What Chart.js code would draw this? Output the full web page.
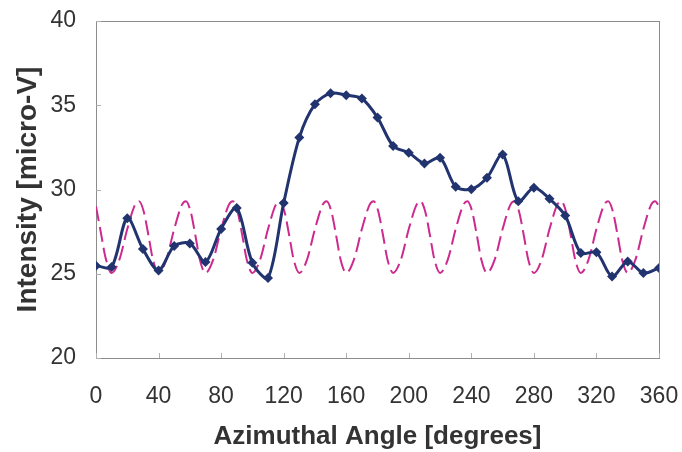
<!DOCTYPE html>
<html>
<head>
<meta charset="utf-8">
<script src="https://cdn.jsdelivr.net/npm/chart.js@4.4.1/dist/chart.umd.min.js"></script>
<style>
  html, body { margin: 0; padding: 0; background: #ffffff; }
  #c { display: block; }
</style>
</head>
<body>
<canvas id="c" width="682" height="452"></canvas>
<script>
// ---- data ----
const measuredAngles = [0, 10, 20, 30, 40, 50, 60, 70, 80, 90, 100, 110, 120, 130, 140, 150, 160, 170, 180,
  190, 200, 210, 220, 230, 240, 250, 260, 270, 280, 290, 300, 310, 320, 330, 340, 350, 360];
const measuredIntensity = [25.48, 25.4, 28.3, 26.47, 25.2, 26.65, 26.8, 25.7, 27.66, 28.9, 25.65, 24.75, 29.2,
  33.08, 35.06, 35.71, 35.6, 35.4, 34.27, 32.58, 32.18, 31.55, 31.88, 30.16, 30.02, 30.7, 32.08, 29.3, 30.1,
  29.45, 28.45, 26.23, 26.27, 24.84, 25.73, 25.04, 25.34];

const modelAngles = [0, 3, 6,
  10, 15, 20, 25, 27.5, 30.5, 33.5, 36.5,
  40, 45, 50, 55, 57.5, 60.5, 63.5, 66.5,
  70, 75, 80, 85, 87.5, 90.5, 93.5, 96.5,
  100, 105, 110, 115, 117.5, 120.5, 123.5, 126.5,
  130, 135, 140, 145, 147.5, 150.5, 153.5, 156.5,
  160, 165, 170, 175, 177.5, 180.5, 183.5, 186.5,
  190, 195, 200, 205, 207.5, 210.5, 213.5, 216.5,
  220, 225, 230, 235, 237.5, 240.5, 243.5, 246.5,
  250, 255, 260, 265, 267.5, 270.5, 273.5, 276.5,
  280, 285, 290, 295, 297.5, 300.5, 303.5, 306.5,
  310, 315, 320, 325, 327.5, 330.5, 333.5, 336.5,
  340, 345, 350, 355, 357.5, 360];
const modelIntensity = [29.0, 27.5, 26.0,
  25.05, 25.85, 27.65, 29.1, 29.3, 28.7, 27.3, 25.8,
  25.05, 25.85, 27.65, 29.1, 29.3, 28.7, 27.3, 25.8,
  25.05, 25.85, 27.65, 29.1, 29.3, 28.7, 27.3, 25.8,
  25.05, 25.85, 27.65, 29.1, 29.3, 28.7, 27.3, 25.8,
  25.05, 25.85, 27.65, 29.1, 29.3, 28.7, 27.3, 25.8,
  25.05, 25.85, 27.65, 29.1, 29.3, 28.7, 27.3, 25.8,
  25.05, 25.85, 27.65, 29.1, 29.3, 28.7, 27.3, 25.8,
  25.05, 25.85, 27.65, 29.1, 29.3, 28.7, 27.3, 25.8,
  25.05, 25.85, 27.65, 29.1, 29.3, 28.7, 27.3, 25.8,
  25.05, 25.85, 27.65, 29.1, 29.3, 28.7, 27.3, 25.8,
  25.05, 25.85, 27.65, 29.1, 29.3, 28.7, 27.3, 25.8,
  25.05, 25.85, 27.65, 29.1, 29.3, 29.0];

const xTicks = [0, 40, 80, 120, 160, 200, 240, 280, 320, 360];
const yTicks = [20, 25, 30, 35, 40];
const xTitle = 'Azimuthal Angle [degrees]';
const yTitle = 'Intensity [micro-V]';

// ---- build chart ----
const toPoints = (xs, ys) => xs.map((x, i) => ({ x: x, y: ys[i] }));

const framePlugin = {
  id: 'frame',
  beforeDatasetsDraw(chart) {
    const { ctx, chartArea: a, scales } = chart;
    ctx.save();
    ctx.strokeStyle = '#8c8c8c';
    ctx.lineWidth = 1;
    ctx.strokeRect(Math.round(a.left) + 0.5, Math.round(a.top) + 0.5,
      Math.round(a.right - a.left), Math.round(a.bottom - a.top));
    ctx.strokeStyle = '#b0b0b0';
    xTicks.forEach(v => {
      const px = Math.round(scales.x.getPixelForValue(v)) + 0.5;
      ctx.beginPath(); ctx.moveTo(px, a.bottom); ctx.lineTo(px, a.bottom - 5); ctx.stroke();
    });
    yTicks.forEach(v => {
      const py = Math.round(scales.y.getPixelForValue(v)) + 0.5;
      ctx.beginPath(); ctx.moveTo(a.left, py); ctx.lineTo(a.left + 5, py); ctx.stroke();
    });
    ctx.restore();
  }
};

const bg = {
  id: 'bg',
  beforeDraw(chart) {
    const ctx = chart.ctx;
    ctx.save(); ctx.fillStyle = '#ffffff'; ctx.fillRect(0, 0, chart.width, chart.height); ctx.restore();
  }
};

const zeroPad = s => { s.paddingTop = 0; s.paddingBottom = 0; s.paddingLeft = 0; s.paddingRight = 0; };

new Chart(document.getElementById('c'), {
  type: 'scatter',
  data: {
    datasets: [
      {
        label: 'Measured',
        data: toPoints(measuredAngles, measuredIntensity),
        showLine: true,
        borderColor: '#22346f',
        backgroundColor: '#22346f',
        borderWidth: 3,
        tension: 0.3,
        pointStyle: 'rectRot',
        pointRadius: 5,
        pointHoverRadius: 5,
        pointBorderWidth: 0
      },
      {
        label: 'Model',
        data: toPoints(modelAngles, modelIntensity),
        showLine: true,
        borderColor: '#cc2a8e',
        backgroundColor: '#cc2a8e',
        borderWidth: 2,
        borderDash: [15, 6],
        cubicInterpolationMode: 'monotone',
        pointRadius: 0,
        pointHoverRadius: 0
      }
    ]
  },
  options: {
    responsive: false,
    animation: false,
    devicePixelRatio: 1,
    layout: { padding: { left: 11, right: 23, top: 21, bottom: 0 } },
    plugins: { legend: { display: false }, tooltip: { enabled: false } },
    scales: {
      x: {
        type: 'linear',
        min: 0, max: 360,
        afterBuildTicks: s => { s.ticks = xTicks.map(v => ({ value: v })); },
        afterFit: s => { s.height = 94; zeroPad(s); },
        grid: { display: false, drawTicks: false },
        border: { display: false },
        ticks: {
          padding: 25,
          color: '#333333',
          font: { family: '"Liberation Sans", Arial, sans-serif', size: 23 },
          maxRotation: 0
        },
        title: {
          display: true,
          text: xTitle,
          color: '#333333',
          padding: { top: 0, bottom: 0 },
          font: { family: '"Liberation Sans", Arial, sans-serif', size: 26, weight: 'bold' }
        }
      },
      y: {
        type: 'linear',
        min: 20, max: 40,
        afterBuildTicks: s => { s.ticks = yTicks.map(v => ({ value: v })); },
        afterFit: s => { s.width = 85; zeroPad(s); },
        grid: { display: false, drawTicks: false },
        border: { display: false },
        ticks: {
          padding: 20,
          color: '#333333',
          font: { family: '"Liberation Sans", Arial, sans-serif', size: 23 }
        },
        title: {
          display: true,
          text: yTitle,
          color: '#333333',
          padding: { top: 0, bottom: 0 },
          font: { family: '"Liberation Sans", Arial, sans-serif', size: 28, weight: 'bold' }
        }
      }
    }
  },
  plugins: [bg, framePlugin]
});
</script>
</body>
</html>
